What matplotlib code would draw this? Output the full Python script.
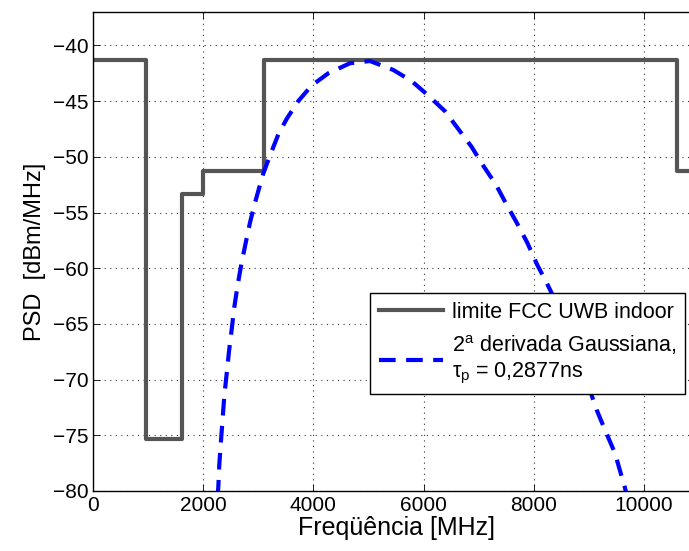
import numpy as np
import matplotlib
matplotlib.use("Agg")
import matplotlib.pyplot as plt

plt.rcParams['font.family'] = ['Liberation Sans', 'DejaVu Sans']
plt.rcParams['mathtext.fontset'] = 'custom'
plt.rcParams['mathtext.rm'] = 'Liberation Sans'
plt.rcParams['mathtext.it'] = 'Liberation Sans'

# FCC indoor UWB mask (step edges in MHz, level in dBm/MHz)
mask_freq = [0, 960, 960, 1610, 1610, 1990, 1990, 3100, 3100, 10600, 10600, 11000]
mask_psd = [-41.3, -41.3, -75.3, -75.3, -53.3, -53.3, -51.3, -51.3, -41.3, -41.3, -51.3, -51.3]

# 2nd derivative gaussian PSD
pulse_freq = [2262, 2275, 2293, 2323, 2353, 2383, 2426, 2468, 2517, 2565, 2626, 2698,
              2777, 2850, 2930, 3010, 3091, 3212, 3363, 3515, 3726, 3969, 4271, 4664, 5027,
              5450, 5784, 6086, 6388, 6630, 6872, 7084, 7314, 7508, 7701, 7882, 8064,
              8234, 8500, 8800, 9141, 9292, 9474, 9655, 9680]
pulse_psd = [-80.5, -79.6, -77.6, -75.5, -73.5, -71.5, -69.5, -67.5, -65.5, -63.5, -61.5, -59.5,
             -57.6, -55.9, -54.3, -52.9, -51.5, -49.9, -48.0, -46.6, -45.0, -43.6, -42.5, -41.6, -41.4,
             -42.2, -43.2, -44.5, -45.9, -47.5, -49.1, -50.8, -52.5, -54.3, -56.0, -57.7, -59.7,
             -61.3, -64.0, -67.8, -72.7, -74.5, -76.6, -79.7, -80.2]

fig = plt.figure(figsize=(6.89, 5.51), dpi=100)
ax = fig.add_axes([93/689, 60/551, 606/689, 479/551])

ax.plot(mask_freq, mask_psd, color='#555555', lw=3, label='limite FCC UWB indoor')
ax.plot(pulse_freq, pulse_psd, color='#0000ff', lw=3, ls=(0, (4, 2.5)),
        label='2$^{\\mathrm{a}}$ derivada Gaussiana,\n$\\tau_{\\mathrm{p}}$ = 0,2877ns')

ax.set_xlim(0, 11000)
ax.set_ylim(-80, -37)
ax.set_xticks(range(0, 11000, 2000))
ax.set_yticks(range(-80, -39, 5))
ax.tick_params(direction='in', labelsize=15, top=True, right=True, length=5, width=0.6)
ax.grid(True, ls=(0, (1, 4)), color='#333333', lw=0.8)
for s in ax.spines.values():
    s.set_linewidth(1.0)

ax.set_xlabel('Freqüência [MHz]', fontsize=18, labelpad=1)
ax.set_ylabel('PSD  [dBm/MHz]', fontsize=17, labelpad=5)

leg = ax.legend(loc='upper left', bbox_to_anchor=(370/689, 1 - 293/551),
                bbox_transform=fig.transFigure, borderaxespad=0, fontsize=15.5,
                fancybox=False, edgecolor='black', framealpha=1, handlelength=3,
                handletextpad=0.4, labelspacing=0.5, borderpad=0.4)
leg.get_frame().set_linewidth(1.0)

fig.savefig('out.png', dpi=100)
